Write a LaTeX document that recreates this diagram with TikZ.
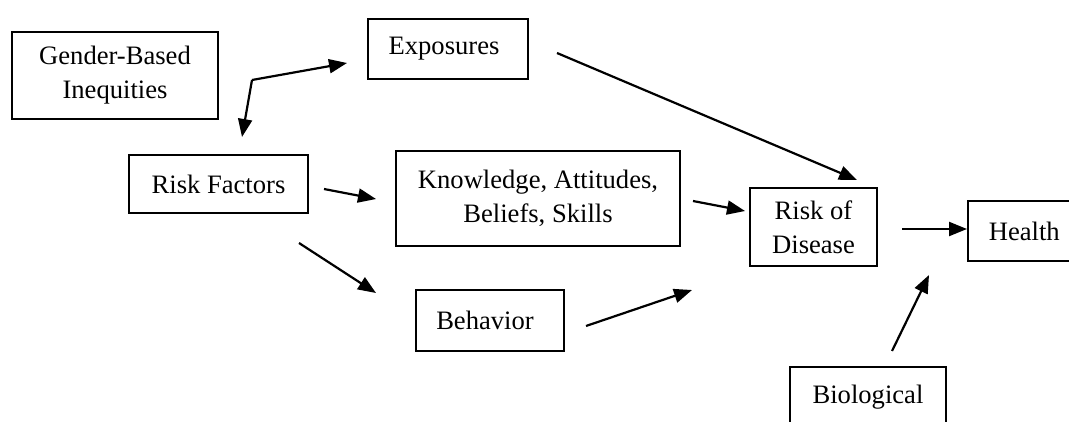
\documentclass[tikz,border=0pt]{standalone}
\usepackage{fontspec}
\setmainfont{Liberation Serif}
\usepackage{tikz}
\usetikzlibrary{arrows.meta,positioning,calc}
\tikzstyle{arr}      =[-{Triangle[length=9pt,width=7pt]}, line width=1.1pt]
\tikzstyle{box}      =[draw, line width=0.8pt, align=center, inner sep=0pt]

\begin{document}
\begin{tikzpicture}[x=0.5pt, y=-0.5pt,
    every node/.style={font=\fontsize{13.3}{17}\selectfont}]

  \useasboundingbox (0,0) rectangle (1069,422);

  % blocks
  \node[box, minimum width=103pt, minimum height=43.5pt] (gbi) at (115,75.5) {Gender-Based\\Inequities};
  \node[box, minimum width=80pt, minimum height=30pt] (expo) at (448,49) {Exposures\hspace*{4pt}};
  \node[box, minimum width=89.5pt, minimum height=29pt] (rf) at (218.5,184) {Risk Factors};
  \node[box, minimum width=142pt, minimum height=47.5pt] (kabs) at (538,198.5) {Knowledge, Attitudes,\\Beliefs, Skills};
  \node[box, minimum width=74pt, minimum height=30.5pt] (beh) at (490,320.5) {Behavior\hspace*{5pt}};
  \node[box, minimum width=63.5pt, minimum height=39pt] (rod) at (813.5,227) {Risk of\\Disease};
  \node[box, minimum height=30pt, anchor=west, text width=90pt, align=left] (health) at (967,231) {\hspace*{10.5pt}Health};
  \node[box, minimum width=78pt, minimum height=30pt] (bio) at (868,397) {Biological};

  % arrow ends
  \coordinate (bend) at (252,80);
  \coordinate (expo-in) at (347,63);
  \coordinate (rf-in) at (242,137);
  \coordinate (expo-out) at (557,53);
  \coordinate (rod-top) at (857,180);
  \coordinate (rf-out1) at (324,189);
  \coordinate (kabs-in) at (376,199);
  \coordinate (rf-out2) at (299,243);
  \coordinate (beh-in) at (376,293);
  \coordinate (kabs-out) at (693,201);
  \coordinate (rod-in1) at (745,211);
  \coordinate (beh-out) at (586,326);
  \coordinate (rod-in2) at (692,290);
  \coordinate (rod-out) at (902,229);
  \coordinate (bio-out) at (892,351);
  \coordinate (health-in) at (929,275);

  % inequities split to exposures and risk factors
  \draw[arr] (bend) -- (expo-in);
  \draw[arr] (bend) -- (rf-in);

  % paths into risk of disease
  \draw[arr] (expo-out) -- (rod-top);
  \draw[arr] (rf-out1) -- (kabs-in);
  \draw[arr] (rf-out2) -- (beh-in);
  \draw[arr] (kabs-out) -- (rod-in1);
  \draw[arr] (beh-out) -- (rod-in2);

  % on to health
  \draw[arr] (rod-out) -- (rod-out -| health.west);
  \draw[arr] (bio-out) -- (health-in);

\end{tikzpicture}
\end{document}
